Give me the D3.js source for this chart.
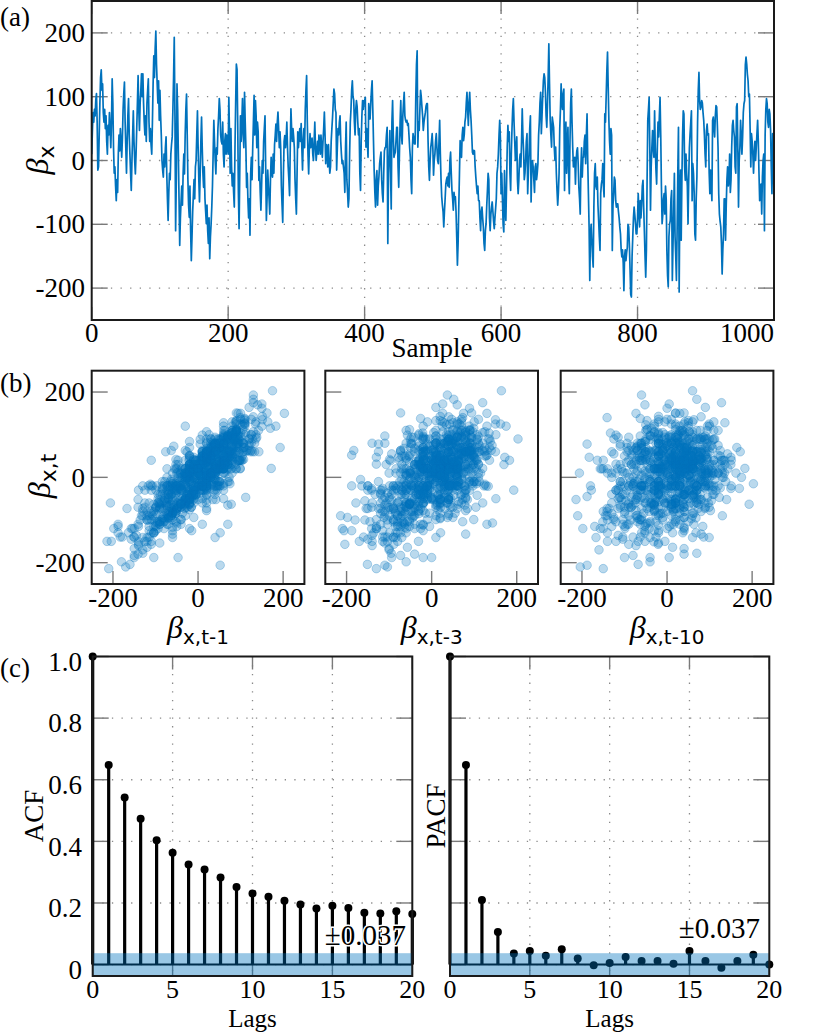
<!DOCTYPE html>
<html><head><meta charset="utf-8">
<script src="https://cdn.jsdelivr.net/npm/d3@7"></script>
<style>
body{margin:0;background:#fff}
svg text{font-family:"Liberation Serif","Times New Roman",serif;fill:#000}
</style>
</head><body>
<svg id="chart" width="832" height="1034" xmlns="http://www.w3.org/2000/svg" font-family="Liberation Serif, serif"></svg>
<script>
// ---------- DATA ----------
const betaX = [
10,45,75,60,80,70,95,105,60,-15,
-10,40,90,130,142,110,120,75,60,80,
50,70,30,10,55,40,75,50,20,60,
128,90,20,-20,-10,-40,-63,-30,-50,10,
40,15,50,30,5,35,80,105,123,60,
20,-20,30,70,97,40,10,-20,-47,0,
40,78,30,0,-21,10,50,90,133,80,
47,90,110,136,100,136,90,60,40,70,
30,90,110,128,60,30,50,25,10,60,
120,164,130,175,203,150,120,90,125,63,
110,70,40,0,-15,-26,10,-10,20,37,
-20,-60,-94,-50,-20,-30,10,25,37,80,
130,193,70,-110,-30,120,80,10,-60,-133,
-90,-63,-40,-70,-20,10,-21,40,80,104,
40,-30,-70,-89,-40,-110,-157,-120,-80,-55,
-30,-60,-10,0,40,78,20,-30,-65,-20,
30,68,20,-20,-42,-10,-60,-80,-99,-70,
-110,-130,-90,-154,-120,-100,-73,-40,10,63,
30,0,-21,20,10,50,70,97,80,40,
30,26,60,10,-10,30,42,10,40,20,
10,99,40,-20,50,-10,-40,-20,-50,-73,
20,90,151,143,60,-50,-107,-20,70,30,
60,97,40,20,107,60,20,-42,-20,-63,
-90,-60,-117,-20,5,-30,20,60,102,40,
94,70,20,60,45,-31,-10,-50,-78,-40,
0,-20,30,50,70,-10,-94,-60,-15,-40,
-60,-84,-30,5,-20,-26,10,-20,25,40,
57,30,60,76,50,20,45,20,-40,-70,
-97,-20,30,39,20,35,60,20,-10,-30,
-55,20,81,50,30,50,37,20,-30,-60,
-84,-20,45,20,37,50,30,58,20,-15,
30,50,20,80,110,133,60,10,-21,20,
42,20,30,35,10,0,30,60,20,0,
15,30,10,40,30,10,40,20,5,30,
50,76,40,-5,25,20,-10,25,0,-20,
-10,30,50,68,90,112,105,80,75,-15,
20,50,40,60,70,30,10,-5,0,-10,
-20,-50,20,60,-30,-50,-73,-60,10,60,
80,110,125,100,95,60,40,80,94,85,
60,40,50,-20,-47,30,70,94,80,94,
94,99,21,50,30,5,89,70,65,90,
110,125,80,31,-16,-50,-73,-30,-16,-70,
-40,-25,-5,5,13,-30,-52,-65,-20,15,
20,21,40,52,-130,-20,15,47,-20,-76,
60,94,40,5,10,13,31,52,52,-10,
-42,10,60,94,40,26,70,90,107,70,
63,60,63,55,58,40,20,5,-30,-52,
20,42,35,26,26,100,150,172,21,60,
47,80,110,100,84,70,47,60,68,75,
85,89,89,30,-10,-31,0,21,30,42,
20,-23,0,10,30,42,20,0,-5,30,
63,10,-30,-57,-70,-80,-104,-80,-60,-37,
-30,-26,-40,-20,-42,0,13,-20,-47,-60,
-78,-50,-60,-57,-80,-120,-164,-130,-73,-20,
31,10,5,40,52,31,40,60,68,90,
107,80,55,90,107,80,63,40,13,10,
16,15,-10,-26,-40,-52,-40,-63,-63,-90,
-110,-80,-73,-90,-104,-130,-141,-110,-99,-70,
-47,-20,-30,-90,-110,-85,-73,-65,-80,-95,
-107,-90,-75,-60,-20,-10,10,40,63,35,
-52,-20,-60,-100,-112,-16,-70,-94,-40,20,
55,30,45,-20,-47,10,50,80,97,60,
30,0,20,37,-30,-52,-31,0,10,-10,
30,81,40,15,-30,-20,0,30,42,-52,
-20,10,50,70,-65,-10,0,-10,-30,-50,
-10,-5,-30,-20,-5,40,60,90,107,42,
70,100,125,136,130,107,70,52,88,130,
183,120,63,40,21,68,60,52,20,0,
21,-20,-47,-70,-50,-20,50,80,120,90,
80,105,112,-47,40,60,-20,20,52,-20,
-52,30,90,112,60,20,-10,0,5,-37,
0,15,20,-5,-42,-60,-84,-10,20,-26,
5,5,30,40,-5,40,73,0,-52,-104,
-188,-115,-100,-125,-150,-167,-73,-20,-5,-40,
-45,-26,-70,-94,-120,-141,-52,-37,-30,-5,
-40,-57,73,60,99,140,170,115,63,30,
10,50,40,-141,-70,-52,-26,-31,-63,-73,
-68,-68,-80,-90,-104,-115,-140,-151,-140,-160,
-204,-150,-140,-157,-145,-136,-100,-104,-130,-170,
-210,-214,-150,-120,-90,-73,-85,-99,-115,-115,
-90,-52,-80,-104,-63,-90,-70,-40,-31,-73,
-110,-150,-183,-140,-30,63,80,99,20,-78,
-10,20,47,20,5,78,20,-15,-37,20,
60,37,70,99,40,-40,-99,-85,-60,-52,
-84,-40,-60,-141,-180,-198,-120,-100,-94,-60,
-47,-188,-130,-80,-20,-120,-150,-188,-110,-20,
52,-206,-60,-15,-125,-30,40,78,73,-10,
-31,10,-20,-40,-99,-30,20,42,60,78,
-63,-5,-20,-50,-115,-125,-60,-26,60,110,
138,94,80,84,94,90,75,63,40,10,
-10,47,57,40,42,-20,-52,-15,-40,-63,
63,68,50,37,70,86,84,55,20,-52,
-84,-95,-104,-130,-178,-140,-115,-60,-60,-125,
-70,-30,-10,-40,-30,10,-50,-30,21,55,
63,47,37,-10,-20,84,89,20,-73,0,
20,63,40,10,37,75,89,94,150,162,
151,135,125,100,104,50,-10,42,30,10,
-20,10,30,0,20,42,63,30,-20,-63,
-40,-37,-84,-26,0,10,-110,40,80,97,
89,60,52,80,73,47,-10,-52,42,20,
-60
];
const acfValues  = [1.0,0.648,0.542,0.473,0.404,0.363,0.325,0.309,0.283,0.252,0.231,0.220,0.207,0.195,0.182,0.191,0.184,0.168,0.166,0.173,0.164];
const pacfValues = [1.0,0.648,0.210,0.106,0.036,0.044,0.029,0.050,0.020,-0.002,0.005,0.025,0.012,0.012,0.003,0.044,0.012,-0.010,0.012,0.032,0.0];
const confBound = 0.037;
const scatterLags = [1, 3, 10];
const scatterLagLabels = ["x,t-1", "x,t-3", "x,t-10"];
const sampleTicks = [0, 200, 400, 600, 800, 1000];
const betaTicks = [-200, -100, 0, 100, 200];
const scatterTicks = [-200, 0, 200];
const corrTicks = [0, 0.2, 0.4, 0.6, 0.8, 1.0];
const lagTicks = [0, 5, 10, 15, 20];

// ---------- STYLE ----------
const BLUE = "#0072BD";
const FS = 27;
const SERIF = "'Liberation Serif', 'Times New Roman', serif";
const svg = d3.select("#chart");
const defs = svg.append("defs");

function txt(g) {
  return g.append("text").attr("font-family", SERIF).attr("font-size", FS);
}
function frameAndTicks(g, x, y, o) {
  const [x0, x1] = x.range(), [y1, y0] = y.range();
  if (o.grid) {
    g.selectAll(null).data(o.xt.filter(v => Math.abs(x(v) - x0) > 2 && Math.abs(x(v) - x1) > 2)).enter()
      .append("line").attr("x1", d => x(d)).attr("x2", d => x(d)).attr("y1", y0).attr("y2", y1)
      .attr("stroke", "#8a8a8a").attr("stroke-width", 1.3).attr("stroke-dasharray", "1.3,7.4");
    g.selectAll(null).data(o.yt.filter(v => Math.abs(y(v) - y0) > 2 && Math.abs(y(v) - y1) > 2)).enter()
      .append("line").attr("y1", d => y(d)).attr("y2", d => y(d)).attr("x1", x0).attr("x2", x1)
      .attr("stroke", "#8a8a8a").attr("stroke-width", 1.3).attr("stroke-dasharray", "1.3,8.3");
  }
  const tk = g.append("g").attr("stroke", "#7a7a7a").attr("stroke-width", 1.4);
  o.xt.forEach(v => {
    tk.append("line").attr("x1", x(v)).attr("x2", x(v)).attr("y1", y1).attr("y2", y1 - 13);
    if (o.all) tk.append("line").attr("x1", x(v)).attr("x2", x(v)).attr("y1", y0).attr("y2", y0 + 13);
  });
  o.yt.forEach(v => {
    tk.append("line").attr("y1", y(v)).attr("y2", y(v)).attr("x1", x0).attr("x2", x0 + 16);
    if (o.all) tk.append("line").attr("y1", y(v)).attr("y2", y(v)).attr("x1", x1).attr("x2", x1 - 16);
  });
}
function frame(g, x, y) {
  const [x0, x1] = x.range(), [y1, y0] = y.range();
  g.append("rect").attr("x", x0).attr("y", y0).attr("width", x1 - x0).attr("height", y1 - y0)
    .attr("fill", "none").attr("stroke", "#1a1a1a").attr("stroke-width", 2);
}
function clip(id, x, y) {
  const [x0, x1] = x.range(), [y1, y0] = y.range();
  defs.append("clipPath").attr("id", id).append("rect")
    .attr("x", x0).attr("y", y0).attr("width", x1 - x0).attr("height", y1 - y0);
}
function betaLabel(g, sub, bfs, sfs, dy) {
  const t = g.append("text").attr("text-anchor", "middle").attr("font-family", SERIF);
  t.append("tspan").text("β").attr("font-style", "italic").attr("font-size", bfs);
  t.append("tspan").text(sub).attr("font-family", "'DejaVu Sans',sans-serif").attr("font-size", sfs).attr("dy", dy);
  return t;
}
function panelLabel(t, y) {
  txt(svg).attr("x", 0).attr("y", y).text(t);
}

// ---------- (a) time series ----------
{
  const x = d3.scaleLinear().domain([0, 1000]).range([91.7, 774]);
  const y = d3.scaleLinear().domain([-250, 250]).range([320, 1]);
  const g = svg.append("g");
  frameAndTicks(g, x, y, {xt: sampleTicks, yt: betaTicks, grid: true, all: true});
  clip("clipA", x, y);
  g.append("path").datum(betaX).attr("clip-path", "url(#clipA)")
    .attr("d", d3.line().x((d, i) => x(i)).y(d => y(d)))
    .attr("fill", "none").attr("stroke", BLUE).attr("stroke-width", 1.7).attr("stroke-linejoin", "round");
  frame(g, x, y);
  betaTicks.forEach(v => txt(g).attr("x", 85).attr("y", y(v)).attr("dy", "0.34em")
    .attr("text-anchor", "end").text(v));
  sampleTicks.forEach((v, i) => txt(g).attr("x", x(v)).attr("y", 342)
    .attr("text-anchor", i === sampleTicks.length - 1 ? "end" : "middle").text(v));
  txt(g).attr("x", 432).attr("y", 357).attr("text-anchor", "middle").text("Sample");
  const yl = g.append("g").attr("transform", "translate(48,160) rotate(-90)");
  betaLabel(yl, "x", 32, 22, 6);
  panelLabel("(a)", 26);
}

// ---------- (b) lag scatter ----------
{
  const lefts = [91.7, 325.3, 560.7];
  const W = 212.7;
  scatterLags.forEach((lag, k) => {
    const x = d3.scaleLinear().domain([-250, 250]).range([lefts[k], lefts[k] + W]);
    const y = d3.scaleLinear().domain([-250, 250]).range([584, 370.7]);
    const g = svg.append("g");
    frameAndTicks(g, x, y, {xt: scatterTicks, yt: scatterTicks, grid: false, all: false});
    clip("clipB" + k, x, y);
    const pairs = d3.range(lag, betaX.length).map(t => [betaX[t - lag], betaX[t]]);
    g.append("g").attr("clip-path", "url(#clipB" + k + ")").selectAll("circle").data(pairs).enter()
      .append("circle").attr("cx", d => x(d[0])).attr("cy", d => y(d[1])).attr("r", 4.3)
      .attr("fill", BLUE).attr("fill-opacity", 0.27)
      .attr("stroke", BLUE).attr("stroke-opacity", 0.3).attr("stroke-width", 0.9);
    frame(g, x, y);
    if (k === 0) scatterTicks.forEach(v => txt(g).attr("x", 85).attr("y", y(v)).attr("dy", "0.34em")
      .attr("text-anchor", "end").text(v));
    scatterTicks.forEach(v => txt(g).attr("x", x(v)).attr("y", 607)
      .attr("text-anchor", "middle").text(v));
    const xl = g.append("g").attr("transform", `translate(${lefts[k] + W / 2},638)`);
    betaLabel(xl, scatterLagLabels[k], 32, 20, 6);
  });
  const yl = svg.append("g").attr("transform", "translate(50,476) rotate(-90)");
  betaLabel(yl, "x,t", 32, 22, 6);
  panelLabel("(b)", 392);
}

// ---------- (c) ACF / PACF ----------
{
  const lefts = [[92.7, 412.3], [450, 769.3]];
  const sets = [acfValues, pacfValues];
  const names = ["ACF", "PACF"];
  const confText = [[406, 945], [760, 938]];
  sets.forEach((vals, k) => {
    const x = d3.scaleLinear().domain([0, 20]).range(lefts[k]);
    const y = d3.scaleLinear().domain([-confBound, 1]).range([976, 656.5]);
    const g = svg.append("g");
    frameAndTicks(g, x, y, {xt: lagTicks, yt: corrTicks, grid: true, all: true});
    g.selectAll(null).data(vals).enter().append("line")
      .attr("x1", (d, i) => x(i)).attr("x2", (d, i) => x(i)).attr("y1", y(0)).attr("y2", d => y(d))
      .attr("stroke", "#000").attr("stroke-width", 3.2);
    g.selectAll(null).data(vals).enter().append("circle")
      .attr("cx", (d, i) => x(i)).attr("cy", d => y(d)).attr("r", 4).attr("fill", "#000");
    g.append("line").attr("x1", x(0)).attr("x2", x(20)).attr("y1", y(0)).attr("y2", y(0))
      .attr("stroke", "#000").attr("stroke-width", 2);
    g.append("rect").attr("x", x(0)).attr("width", x(20) - x(0))
      .attr("y", y(confBound)).attr("height", y(-confBound) - y(confBound))
      .attr("fill", BLUE).attr("fill-opacity", 0.4);
    frame(g, x, y);
    if (k === 0) corrTicks.forEach(v => txt(g).attr("x", 82).attr("y", y(v) + 5).attr("dy", "0.34em")
      .attr("text-anchor", "end").text(d3.format(v === 0 ? "d" : ".1f")(v)));
    lagTicks.forEach(v => txt(g).attr("x", x(v)).attr("y", 998).attr("font-size", 26)
      .attr("text-anchor", "middle").text(v));
    txt(g).attr("x", (lefts[k][0] + lefts[k][1]) / 2).attr("y", 1027).attr("font-size", 25)
      .attr("text-anchor", "middle").text("Lags");
    txt(g).attr("transform", `translate(${k === 0 ? 43 : 445},816) rotate(-90)`)
      .attr("text-anchor", "middle").text(names[k]);
    txt(g).attr("x", confText[k][0]).attr("y", confText[k][1]).attr("text-anchor", "end")
      .attr("font-size", 29).attr("stroke", "#fff").attr("stroke-width", 3).attr("paint-order", "stroke")
      .text("±" + d3.format(".3f")(confBound));
  });
  panelLabel("(c)", 677);
}
</script>
</body></html>
